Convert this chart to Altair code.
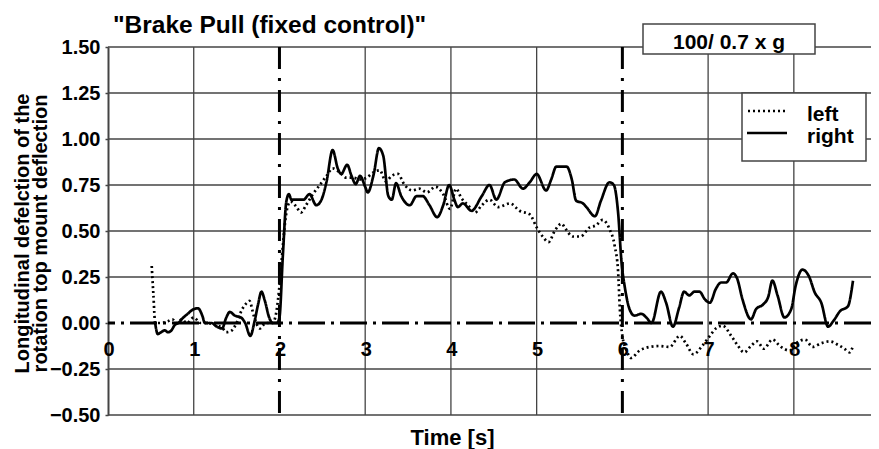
import altair as alt
import pandas as pd

# ---- data ----
t_right = [0.55, 0.58, 0.62, 0.66, 0.70, 0.74, 0.78, 0.82, 0.88, 0.93, 0.98, 1.05, 1.10, 1.13, 1.21,
           1.27, 1.33, 1.38, 1.42, 1.48, 1.55, 1.60, 1.66, 1.71, 1.75, 1.79, 1.83, 1.88, 1.92, 1.97,
           2.00, 2.04, 2.08, 2.11, 2.14, 2.20, 2.28, 2.35, 2.43, 2.49, 2.55, 2.62, 2.68, 2.72, 2.79,
           2.84, 2.89, 2.94, 3.00, 3.03, 3.10, 3.16, 3.21, 3.27, 3.31, 3.36, 3.42, 3.52, 3.60, 3.67,
           3.75, 3.84, 3.91, 3.98, 4.04, 4.08, 4.14, 4.24, 4.36, 4.45, 4.53, 4.63, 4.74, 4.84, 4.92,
           5.00, 5.11, 5.17, 5.23, 5.35, 5.41, 5.46, 5.54, 5.58, 5.68, 5.75, 5.85, 5.90, 5.95, 5.99,
           6.03, 6.08, 6.14, 6.22, 6.28, 6.34, 6.45, 6.51, 6.59, 6.66, 6.72, 6.78, 6.84, 6.90, 6.96,
           7.02, 7.09, 7.15, 7.21, 7.29, 7.34, 7.40, 7.50, 7.56, 7.64, 7.70, 7.75, 7.81, 7.89, 7.97,
           8.02, 8.10, 8.18, 8.24, 8.32, 8.40, 8.46, 8.54, 8.63, 8.69]
v_right = [0.00, -0.06, -0.05, -0.04, -0.05, -0.04, -0.01, 0.00, 0.03, 0.05, 0.07, 0.08, 0.04, 0.00, 0.00,
           -0.02, -0.03, 0.03, 0.06, 0.04, 0.03, 0.00, -0.07, 0.01, 0.10, 0.17, 0.12, 0.03, 0.00, 0.00,
           0.03, 0.37, 0.66, 0.70, 0.67, 0.67, 0.67, 0.70, 0.64, 0.67, 0.77, 0.94, 0.84, 0.81, 0.86,
           0.80, 0.755, 0.80, 0.74, 0.71, 0.81, 0.95, 0.91, 0.69, 0.67, 0.76, 0.69, 0.64, 0.69, 0.69,
           0.64, 0.575, 0.64, 0.75, 0.67, 0.63, 0.65, 0.61, 0.69, 0.75, 0.67, 0.765, 0.78, 0.73, 0.765,
           0.81, 0.72, 0.78, 0.85, 0.85, 0.78, 0.665, 0.65, 0.63, 0.58, 0.665, 0.765, 0.75, 0.60, 0.33,
           0.19, 0.08, 0.04, 0.05, 0.03, 0.00, 0.17, 0.11, -0.02, 0.08, 0.17, 0.15, 0.17, 0.17, 0.13,
           0.11, 0.185, 0.22, 0.22, 0.27, 0.24, 0.13, 0.02, 0.076, 0.10, 0.14, 0.23, 0.15, 0.03, 0.076,
           0.20, 0.29, 0.25, 0.17, 0.11, -0.02, 0.01, 0.065, 0.09, 0.23]

t_left = [0.51, 0.53, 0.55, 0.62, 0.70, 0.75, 0.80, 0.86, 0.92, 1.00, 1.08, 1.15, 1.25, 1.34, 1.38,
          1.43, 1.50, 1.56, 1.62, 1.65, 1.70, 1.77, 1.84, 1.92, 1.96, 2.00, 2.04, 2.07, 2.10, 2.13,
          2.20, 2.25, 2.31, 2.39, 2.47, 2.55, 2.62, 2.70, 2.78, 2.86, 2.94, 3.02, 3.10, 3.17, 3.24,
          3.31, 3.38, 3.46, 3.55, 3.63, 3.72, 3.82, 3.91, 3.99, 4.06, 4.12, 4.20, 4.28, 4.36, 4.45,
          4.55, 4.69, 4.80, 4.92, 5.00, 5.07, 5.14, 5.21, 5.29, 5.34, 5.42, 5.51, 5.62, 5.69, 5.77,
          5.85, 5.91, 5.95, 5.97, 6.00, 6.05, 6.10, 6.20, 6.32, 6.43, 6.55, 6.67, 6.74, 6.83, 6.93,
          7.02, 7.09, 7.17, 7.27, 7.35, 7.42, 7.50, 7.57, 7.65, 7.75, 7.85, 7.95, 8.03, 8.13, 8.22,
          8.32, 8.42, 8.52, 8.59, 8.65, 8.69]
v_left = [0.31, 0.15, 0.00, 0.00, 0.01, 0.02, 0.00, 0.02, 0.00, 0.03, 0.00, 0.00, -0.01, -0.03, -0.05,
          -0.045, 0.00, 0.07, 0.11, 0.12, 0.04, -0.03, 0.00, 0.00, 0.05, 0.20, 0.42, 0.565, 0.64, 0.66,
          0.63, 0.60, 0.64, 0.70, 0.75, 0.80, 0.84, 0.82, 0.79, 0.79, 0.78, 0.79, 0.82, 0.83, 0.77,
          0.80, 0.81, 0.75, 0.72, 0.73, 0.71, 0.74, 0.70, 0.62, 0.73, 0.68, 0.64, 0.60, 0.64, 0.67,
          0.63, 0.65, 0.61, 0.59, 0.52, 0.47, 0.44, 0.50, 0.54, 0.51, 0.47, 0.47, 0.52, 0.53, 0.56,
          0.51, 0.42, 0.28, 0.08, -0.07, -0.15, -0.19, -0.15, -0.13, -0.125, -0.13, -0.07, -0.11, -0.17, -0.125,
          -0.07, -0.03, -0.015, -0.07, -0.125, -0.16, -0.125, -0.10, -0.14, -0.09, -0.13, -0.15, -0.11, -0.09, -0.13,
          -0.11, -0.10, -0.12, -0.14, -0.16, -0.125]

series_names = ["left", "right"]
x_ticks = [0, 1, 2, 3, 4, 5, 6, 7, 8]
y_ticks = [-0.5, -0.25, 0.0, 0.25, 0.5, 0.75, 1.0, 1.25, 1.5]
grid_x = [1, 3, 4, 5, 7, 8]
grid_y = [-0.5, -0.25, 0.25, 0.5, 0.75, 1.0, 1.25, 1.5]
event_times = [2, 6]
box_label = "100/ 0.7 x g"
chart_title = '"Brake Pull (fixed control)"'

df = pd.concat([
    pd.DataFrame({"t": t_left, "v": v_left, "series": "left"}),
    pd.DataFrame({"t": t_right, "v": v_right, "series": "right"}),
])

FONT = "Liberation Sans"
W, H = 763, 368
DOTTED = [2, 3]
SOLID = [1, 0]
GRID = "#444"
xscale = alt.Scale(domain=[0, 8.9], nice=False, zero=False)
yscale = alt.Scale(domain=[-0.5, 1.5], nice=False)

lines = alt.Chart(df).mark_line(strokeWidth=2.7, color="black", interpolate="monotone").encode(
    x=alt.X("t:Q", scale=xscale,
            axis=alt.Axis(values=x_ticks, grid=False, labels=False, ticks=False,
                          domain=False, title="Time [s]", titleX=344, titleY=29,
                          titleAlign="center", titleBaseline="alphabetic",
                          titleFontSize=22, titleFont=FONT, titleFontWeight="bold",
                          titleColor="black")),
    y=alt.Y("v:Q", scale=yscale,
            axis=alt.Axis(values=y_ticks, format=".2f", grid=False, tickSize=3,
                          labelPadding=5, labelFontSize=20, labelFont=FONT,
                          labelFontWeight="bold", labelColor="black",
                          domainColor=GRID, domainWidth=2, tickColor=GRID, tickWidth=1.5,
                          title=["Longitudinal defelction of the", "rotation top mount deflection"],
                          titleX=-80, titleY=186, titleAngle=270, titleAlign="center",
                          titleBaseline="alphabetic", titleLineHeight=18,
                          titleFontSize=20, titleFont=FONT, titleFontWeight="bold",
                          titleColor="black")),
    strokeDash=alt.StrokeDash("series:N",
                              scale=alt.Scale(domain=series_names, range=[DOTTED, SOLID]),
                              legend=None),
)

grid_v = alt.Chart(pd.DataFrame({"t": grid_x})).mark_rule(color=GRID, strokeWidth=1.3).encode(
    x=alt.X("t:Q", scale=xscale))
grid_h = alt.Chart(pd.DataFrame({"v": grid_y})).mark_rule(color=GRID, strokeWidth=1.3).encode(
    y=alt.Y("v:Q", scale=yscale))

zero_line = alt.Chart(pd.DataFrame({"v": [0]})).mark_rule(
    color="black", strokeWidth=3, strokeDash=[27, 6, 3, 6]).encode(y=alt.Y("v:Q", scale=yscale))

event_lines = alt.Chart(pd.DataFrame({"t": event_times})).mark_rule(
    color="black", strokeWidth=3, strokeDash=[22, 9, 3, 9]).encode(x=alt.X("t:Q", scale=xscale))

tick_labels = alt.Chart(pd.DataFrame({"t": x_ticks, "v": [0] * len(x_ticks)})).mark_text(
    font=FONT, fontSize=20, fontWeight="bold", color="black", baseline="alphabetic",
    dy=33, dx=1).encode(
    x=alt.X("t:Q", scale=xscale), y=alt.Y("v:Q", scale=yscale), text=alt.Text("t:Q"))

# annotation box at the top right
box = alt.Chart(pd.DataFrame({"label": [box_label]})).mark_rect(
    fill="white", stroke=GRID, strokeWidth=1.5).encode(
    x=alt.value(535), x2=alt.value(707), y=alt.value(-23), y2=alt.value(7))
box_text = alt.Chart(pd.DataFrame({"label": [box_label]})).mark_text(
    font=FONT, fontSize=21, fontWeight="bold", color="black", align="center",
    baseline="alphabetic").encode(x=alt.value(621), y=alt.value(2), text="label:N")

# title
title_text = alt.Chart(pd.DataFrame({"label": [chart_title]})).mark_text(
    font=FONT, fontSize=24.5, fontWeight="bold", color="black", align="left",
    baseline="alphabetic").encode(x=alt.value(5), y=alt.value(-14), text="label:N")

# legend
leg_box = alt.Chart(pd.DataFrame({"s": series_names[:1]})).mark_rect(
    fill="white", stroke=GRID, strokeWidth=1.5).encode(
    x=alt.value(634), x2=alt.value(758), y=alt.value(46), y2=alt.value(114))
leg_left = alt.Chart(pd.DataFrame({"s": [series_names[0]]})).mark_rule(
    color="black", strokeWidth=2.7, strokeDash=DOTTED).encode(
    x=alt.value(640), x2=alt.value(677), y=alt.value(64))
leg_right = alt.Chart(pd.DataFrame({"s": [series_names[1]]})).mark_rule(
    color="black", strokeWidth=2.7).encode(
    x=alt.value(639), x2=alt.value(679), y=alt.value(86))
leg_text_left = alt.Chart(pd.DataFrame({"s": [series_names[0]]})).mark_text(
    font=FONT, fontSize=21, fontWeight="bold", color="black", align="left",
    baseline="alphabetic").encode(x=alt.value(699), y=alt.value(74), text="s:N")
leg_text_right = alt.Chart(pd.DataFrame({"s": [series_names[1]]})).mark_text(
    font=FONT, fontSize=21, fontWeight="bold", color="black", align="left",
    baseline="alphabetic").encode(x=alt.value(699), y=alt.value(96), text="s:N")

chart = alt.layer(
    grid_v, grid_h, event_lines, zero_line, lines, tick_labels, box, box_text, title_text,
    leg_box, leg_left, leg_right, leg_text_left, leg_text_right
).properties(
    width=W, height=H,
    autosize=alt.AutoSizeParams(type="none"),
    padding={"left": 100, "top": 39, "right": 0, "bottom": 34},
).configure_view(stroke=None)

chart.save("out.html", embed_options={"renderer": "svg", "actions": False})
